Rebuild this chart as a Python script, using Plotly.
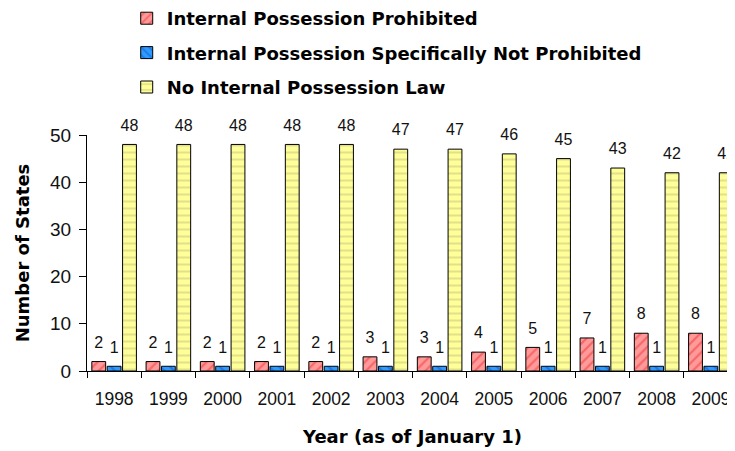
import plotly.graph_objects as go

years = ["1998", "1999", "2000", "2001", "2002", "2003", "2004", "2005", "2006", "2007", "2008", "2009"]
prohibited = [2, 2, 2, 2, 2, 3, 3, 4, 5, 7, 8, 8]
not_prohibited = [1, 1, 1, 1, 1, 1, 1, 1, 1, 1, 1, 1]
no_law = [48, 48, 48, 48, 48, 47, 47, 46, 45, 43, 42, 42]

series = [
    ("Internal Possession Prohibited", prohibited, "#FF9A9A", "#F03030", "/"),
    ("Internal Possession Specifically Not Prohibited", not_prohibited, "#2E9BFF", "#0A50C8", "\\"),
    ("No Internal Possession Law", no_law, "#FFFF99", "#C8C27A", "-"),
]

fig = go.Figure()

for i, (name, vals, bg, fg, shape) in enumerate(series):
    fig.add_trace(go.Bar(
        x=years, y=vals, name=name,
        legendgroup=str(i),
        marker=dict(
            color=bg,
            line=dict(color="black", width=1),
            pattern=dict(shape=shape, bgcolor=bg, fgcolor=fg, size=7, solidity=0.3),
        ),
    ))

# value labels, grouped like the bars, pushed up by an invisible marker
for i, (name, vals, bg, fg, shape) in enumerate(series):
    fig.add_trace(go.Scatter(
        x=years, y=vals, mode="markers+text",
        text=[str(v) for v in vals], textposition="top center",
        textfont=dict(family="Liberation Sans, Arial", size=16, color="#111"),
        marker=dict(size=14, color="rgba(0,0,0,0)"),
        showlegend=False, hoverinfo="skip", cliponaxis=False,
    ))

fig.update_layout(
    width=735, height=451,
    margin=dict(l=79, r=5, t=127, b=88, autoexpand=False),
    plot_bgcolor="white", paper_bgcolor="white",
    barmode="group", bargap=0.15, bargroupgap=0.1,
    scattermode="group", scattergap=0.15,
    font=dict(family="Liberation Sans, Arial", color="#111"),
    legend=dict(
        x=0.061, xanchor="left",
        y=1.572, yanchor="top",
        traceorder="grouped", tracegroupgap=8,
        font=dict(family="DejaVu Sans", size=18, color="black", weight="bold"),
        bgcolor="rgba(0,0,0,0)",
    ),
    showlegend=True,
)

fig.update_xaxes(
    range=[-0.5, 11.5],
    showline=True, linecolor="black", linewidth=1,
    ticks="outside", tickson="boundaries", ticklen=6, tickcolor="black",
    tickangle=0, ticklabelstandoff=12,
    tickfont=dict(family="Liberation Sans, Arial", size=17.5, color="#111"),
    title=dict(text="Year (as of January 1)", standoff=22,
               font=dict(family="DejaVu Sans", size=18, color="black", weight="bold")),
    showgrid=False,
)
fig.update_yaxes(
    range=[0, 50], dtick=10,
    showline=True, linecolor="black", linewidth=1,
    ticks="outside", ticklen=7, tickcolor="black", ticklabelstandoff=4,
    tickfont=dict(family="Liberation Sans, Arial", size=19, color="#111"),
    title=dict(text="Number of States", standoff=15,
               font=dict(family="DejaVu Sans", size=18, color="black", weight="bold")),
    showgrid=False, zeroline=False,
)

fig.write_html("out.html")
